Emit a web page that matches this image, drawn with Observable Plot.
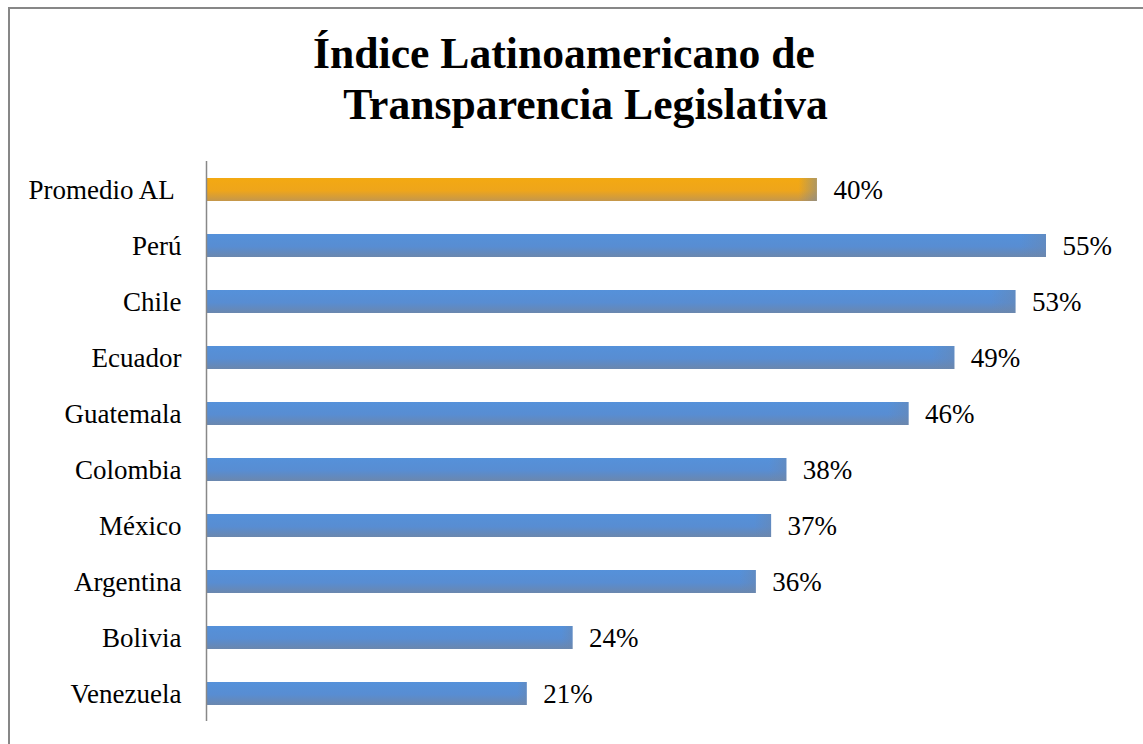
<!DOCTYPE html>
<html>
<head>
<meta charset="utf-8">
<script src="https://cdn.jsdelivr.net/npm/d3@7"></script>
<script src="https://cdn.jsdelivr.net/npm/@observablehq/plot@0.6"></script>
<style>
  html, body { margin: 0; padding: 0; background: #fff; }
  #wrap { position: relative; width: 1143px; height: 744px; overflow: hidden; }
  #frame { position: absolute; left: 8px; top: 7px; width: 2000px; height: 2000px;
           border-top: 2px solid #878787; border-left: 2px solid #878787; }
  .title { position: absolute; font-family: "Liberation Serif", serif; font-weight: bold;
           font-size: 45px; line-height: 51px; text-align: center; color: #000; white-space: nowrap;
           transform: scaleX(0.97); transform-origin: center; }
  #plot { position: absolute; left: 0; top: 0; }
</style>
</head>
<body>
<div id="wrap">
  <div id="frame"></div>
  <div class="title" style="left:0; width:1128px; top:28px;">Índice Latinoamericano de</div>
  <div class="title" style="left:0; width:1171px; top:79px;">Transparencia Legislativa</div>
  <div id="plot"></div>
</div>
<script>
const countries = ["Promedio AL", "Perú", "Chile", "Ecuador", "Guatemala", "Colombia", "México", "Argentina", "Bolivia", "Venezuela"];
const values = [40, 55, 53, 49, 46, 38, 37, 36, 24, 21];
const highlight = "Promedio AL";

const data = countries.map((c, i) => ({country: c, value: values[i]}));

const chart = Plot.plot({
  width: 1143,
  height: 744,
  marginTop: 161,
  marginBottom: 23,
  marginLeft: 206,
  marginRight: 97,
  x: {domain: [0, 55], axis: null},
  y: {domain: countries, paddingInner: 0.59, paddingOuter: 0.295, label: null},
  style: {fontFamily: "Liberation Serif, serif", fontSize: "27px", color: "#000", background: "transparent"},
  marks: [
    Plot.barX(data, {
      y: "country", x: "value",
      fill: d => d.country === highlight ? "url(#gradOrange)" : "url(#gradBlue)"
    }),
    Plot.barX(data, {
      y: "country", x: "value",
      fill: "url(#gradEdge)"
    }),
    Plot.text(data, {
      y: "country", x: "value", text: d => d.value + "%",
      textAnchor: "start", dx: 16, fill: "#000", fontSize: 27
    }),
    Plot.ruleX([0], {stroke: "#888", strokeWidth: 1.5}),
    Plot.axisY({tickSize: 0, tickPadding: 25, fontSize: 27, label: null,
                tickFormat: d => d === highlight ? d + "\u00a0" : d})
  ]
});

const ns = "http://www.w3.org/2000/svg";
const defs = document.createElementNS(ns, "defs");
defs.innerHTML = `
  <linearGradient id="gradBlue" x1="0" y1="0" x2="0" y2="1">
    <stop offset="0%" stop-color="#5591DA"/>
    <stop offset="55%" stop-color="#588DD2"/>
    <stop offset="100%" stop-color="#6B87AE"/>
  </linearGradient>
  <linearGradient id="gradOrange" x1="0" y1="0" x2="0" y2="1">
    <stop offset="0%" stop-color="#F3A912"/>
    <stop offset="55%" stop-color="#EEA51B"/>
    <stop offset="100%" stop-color="#C4974C"/>
  </linearGradient>
  <linearGradient id="gradEdge" x1="0" y1="0" x2="1" y2="0">
    <stop offset="0%" stop-color="#6B87AE" stop-opacity="0"/>
    <stop offset="97%" stop-color="#6B87AE" stop-opacity="0"/>
    <stop offset="100%" stop-color="#6B87AE" stop-opacity="0.5"/>
  </linearGradient>`;
chart.insertBefore(defs, chart.firstChild);
document.getElementById("plot").appendChild(chart);
</script>
</body>
</html>
